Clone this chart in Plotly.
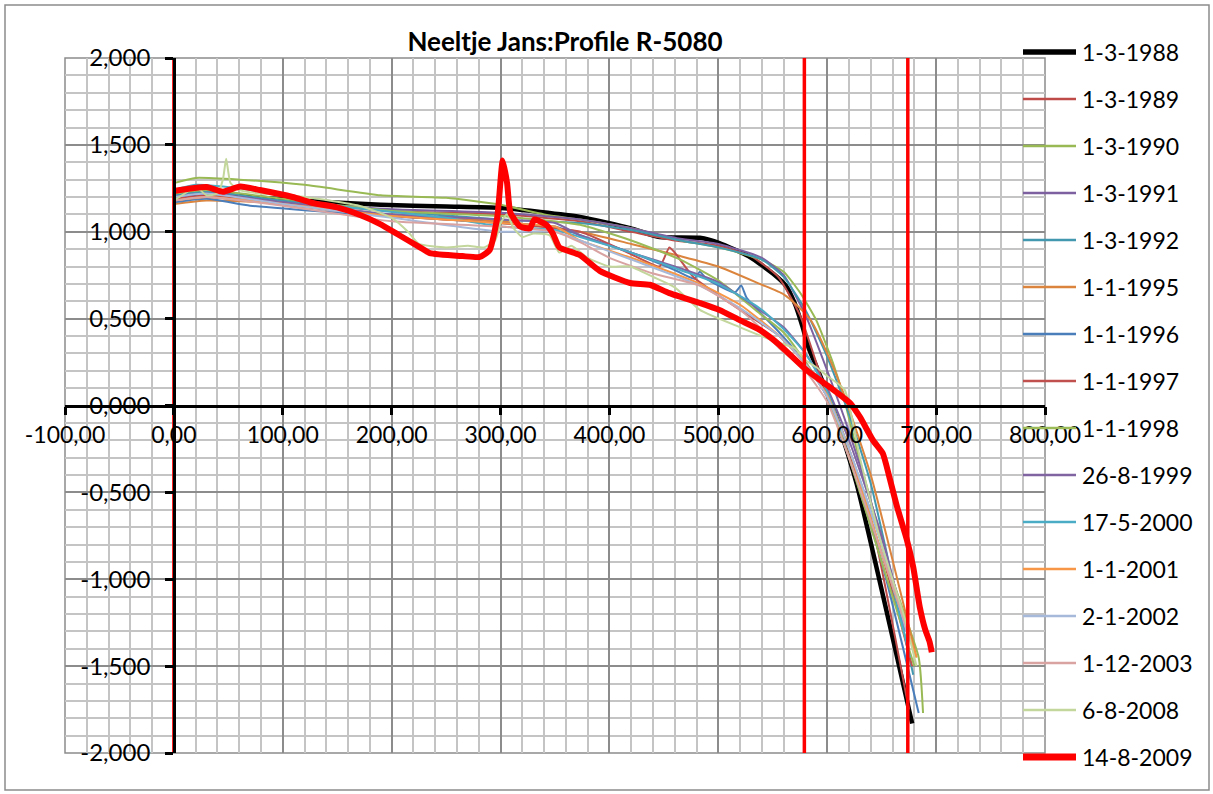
import plotly.graph_objects as go

# ---------------- data ----------------
series_names = ["1-3-1988", "1-3-1989", "1-3-1990", "1-3-1991", "1-3-1992", "1-1-1995",
                "1-1-1996", "1-1-1997", "1-1-1998", "26-8-1999", "17-5-2000", "1-1-2001",
                "2-1-2002", "1-12-2003", "6-8-2008", "14-8-2009"]

x_1988 = [0, 25, 70, 115, 190, 250, 300, 373, 419, 446, 483, 501, 529, 552, 562, 570, 577, 583, 591, 600, 609, 627, 678]
y_1988 = [1.20, 1.22, 1.20, 1.18, 1.155, 1.145, 1.137, 1.085, 1.02, 0.97, 0.965, 0.935, 0.855, 0.75, 0.69, 0.59, 0.46, 0.33, 0.21, 0.07, -0.08, -0.45, -1.83]

x_1989 = [0, 30, 100, 200, 300, 373, 420, 460, 500, 530, 555, 575, 595, 615, 640, 675]
y_1989 = [1.19, 1.21, 1.17, 1.12, 1.10, 1.06, 1.00, 0.95, 0.92, 0.86, 0.74, 0.52, 0.15, -0.20, -0.65, -1.75]

x_1990 = [0, 20, 60, 120, 190, 250, 300, 340, 373, 420, 465, 500, 540, 560, 575, 590, 605, 615, 625, 640, 660, 684, 688]
y_1990 = [1.28, 1.31, 1.30, 1.27, 1.21, 1.195, 1.155, 1.10, 1.07, 1.02, 0.95, 0.91, 0.84, 0.77, 0.65, 0.49, 0.25, 0.05, -0.20, -0.55, -1.00, -1.45, -1.77]

x_1991 = [0, 30, 100, 200, 300, 373, 420, 465, 500, 540, 560, 580, 600, 620, 640, 676]
y_1991 = [1.20, 1.22, 1.17, 1.13, 1.11, 1.07, 1.02, 0.96, 0.93, 0.85, 0.75, 0.52, 0.20, -0.15, -0.55, -1.35]

x_1992 = [0, 30, 100, 200, 300, 373, 420, 465, 500, 540, 560, 580, 600, 620, 640, 679]
y_1992 = [1.21, 1.23, 1.18, 1.12, 1.07, 1.05, 1.01, 0.95, 0.91, 0.84, 0.74, 0.55, 0.28, -0.05, -0.45, -1.55]

x_1995 = [0, 30, 80, 150, 250, 300, 373, 420, 465, 500, 538, 560, 575, 585, 600, 615, 640, 682]
y_1995 = [1.16, 1.18, 1.17, 1.12, 1.08, 1.06, 1.00, 0.93, 0.86, 0.80, 0.70, 0.64, 0.56, 0.49, 0.30, 0.07, -0.40, -1.45]

x_1996 = [0, 30, 70, 150, 250, 300, 350, 373, 420, 460, 478, 483, 489, 515, 521, 526, 556, 580, 600, 620, 650, 684]
y_1996 = [1.17, 1.19, 1.15, 1.11, 1.07, 1.05, 1.03, 0.98, 0.88, 0.78, 0.73, 0.77, 0.73, 0.65, 0.69, 0.62, 0.42, 0.25, 0.05, -0.30, -0.90, -1.77]

x_1997 = [0, 30, 100, 200, 300, 373, 420, 446, 455, 460, 477, 520, 556, 580, 600, 620, 650, 678]
y_1997 = [1.19, 1.20, 1.16, 1.09, 1.05, 1.00, 0.87, 0.80, 0.91, 0.88, 0.74, 0.55, 0.40, 0.24, 0.05, -0.30, -0.85, -1.50]

x_1998 = [0, 30, 100, 200, 300, 373, 420, 465, 500, 538, 560, 580, 600, 620, 650, 680]
y_1998 = [1.22, 1.24, 1.19, 1.12, 1.09, 1.04, 0.95, 0.84, 0.72, 0.53, 0.42, 0.25, 0.05, -0.30, -0.90, -1.50]

x_1999 = [0, 30, 100, 200, 300, 350, 373, 420, 465, 500, 538, 560, 580, 600, 620, 650, 672]
y_1999 = [1.20, 1.22, 1.17, 1.10, 1.07, 1.05, 0.98, 0.88, 0.79, 0.71, 0.55, 0.45, 0.30, 0.10, -0.20, -0.75, -1.30]

x_2000 = [0, 20, 60, 150, 250, 300, 350, 373, 420, 465, 500, 538, 560, 580, 600, 620, 650, 676]
y_2000 = [1.24, 1.27, 1.25, 1.15, 1.08, 1.03, 1.01, 0.97, 0.88, 0.78, 0.70, 0.56, 0.44, 0.30, 0.08, -0.25, -0.80, -1.45]

x_2001 = [0, 30, 100, 200, 300, 350, 373, 420, 483, 520, 556, 580, 600, 620, 650, 682]
y_2001 = [1.18, 1.20, 1.16, 1.09, 1.05, 1.03, 0.95, 0.85, 0.70, 0.58, 0.40, 0.24, 0.06, -0.25, -0.85, -1.45]

x_2002 = [0, 30, 100, 200, 300, 350, 373, 420, 483, 520, 556, 580, 600, 620, 650, 675]
y_2002 = [1.20, 1.22, 1.16, 1.08, 1.00, 1.00, 0.95, 0.84, 0.69, 0.56, 0.40, 0.24, 0.05, -0.25, -0.80, -1.35]

x_2003 = [0, 30, 100, 200, 300, 350, 373, 400, 440, 483, 520, 538, 556, 580, 600, 620, 650, 674]
y_2003 = [1.18, 1.20, 1.15, 1.06, 1.03, 1.00, 0.94, 0.85, 0.76, 0.69, 0.55, 0.45, 0.33, 0.20, 0.02, -0.30, -0.85, -1.30]

x_2008 = [0, 10, 20, 30, 40, 45, 48, 52, 60, 80, 120, 170, 200, 215, 225, 250, 270, 285, 295, 300, 306, 312, 320, 330, 345, 354, 365, 380, 400, 419, 440, 460, 483, 520, 556, 570, 580, 590, 600, 616, 630, 650, 670, 682]
y_2008 = [1.18, 1.22, 1.26, 1.21, 1.22, 1.30, 1.42, 1.28, 1.24, 1.22, 1.20, 1.15, 1.08, 1.00, 0.93, 0.91, 0.92, 0.91, 0.95, 1.05, 1.10, 1.02, 0.97, 0.99, 0.98, 0.88, 0.92, 0.85, 0.80, 0.80, 0.74, 0.68, 0.55, 0.45, 0.36, 0.33, 0.26, 0.22, 0.17, 0.09, -0.30, -0.80, -1.20, -1.50]

x_2009 = [0, 30, 45, 61, 79, 109, 128, 150, 171, 189, 207, 226, 235, 265, 281, 290, 297, 302, 306, 309, 318, 327, 331, 342, 348, 354, 373, 391, 419, 437, 455, 483, 501, 520, 538, 556, 581, 602, 621, 630, 642, 651, 657, 664, 673, 679, 685, 690, 694, 696]
y_2009 = [1.235, 1.257, 1.23, 1.26, 1.24, 1.20, 1.165, 1.14, 1.096, 1.045, 0.98, 0.91, 0.877, 0.86, 0.855, 0.895, 1.085, 1.41, 1.28, 1.11, 1.03, 1.02, 1.07, 1.04, 0.99, 0.91, 0.865, 0.775, 0.705, 0.695, 0.647, 0.59, 0.55, 0.49, 0.435, 0.35, 0.204, 0.107, 0.014, -0.066, -0.20, -0.275, -0.41, -0.58, -0.77, -0.93, -1.16, -1.29, -1.36, -1.42]

series_x = [x_1988, x_1989, x_1990, x_1991, x_1992, x_1995, x_1996, x_1997, x_1998, x_1999, x_2000, x_2001, x_2002, x_2003, x_2008, x_2009]
series_y = [y_1988, y_1989, y_1990, y_1991, y_1992, y_1995, y_1996, y_1997, y_1998, y_1999, y_2000, y_2001, y_2002, y_2003, y_2008, y_2009]

series_colors = ["#000000", "#BE4B48", "#98B954", "#7D60A0", "#4198AF", "#DB843D",
                 "#4A7EBB", "#C0504D", "#9BBB59", "#8064A2", "#4BACC6", "#F79646",
                 "#A7B9DA", "#D9A3A2", "#C3D69B", "#FF0000"]
series_widths = [4.5, 2, 2, 2, 2, 2, 2, 2, 2, 2, 2, 2, 2, 2, 2, 6]

# vertical reference lines (x positions)
ref_x = [0, 579, 674]
ref_y = [-2.0, 2.02]

x_tickvals = [-100, 0, 100, 200, 300, 400, 500, 600, 700, 800]
x_ticktext = ["-100,00", "0,00", "100,00", "200,00", "300,00", "400,00", "500,00", "600,00", "700,00", "800,00"]
y_tickvals = [-2, -1.5, -1, -0.5, 0, 0.5, 1, 1.5, 2]
y_ticktext = ["-2,000", "-1,500", "-1,000", "-0,500", "0,000", "0,500", "1,000", "1,500", "2,000"]

FONT = "Lato"

# layout geometry (pixels)
W, H = 1213, 794
PL, PR, PT, PB = 65, 1045, 58, 753


def px2paper_x(px):
    return (px - PL) / (PR - PL)


def px2paper_y(py):
    return (PB - py) / (PB - PT)


fig = go.Figure()
for i, name in enumerate(series_names):
    fig.add_trace(go.Scatter(
        x=series_x[i], y=series_y[i], mode="lines", name=name, showlegend=False,
        line=dict(color=series_colors[i], width=series_widths[i], shape="spline", smoothing=0.5),
    ))

for rx in ref_x:
    fig.add_trace(go.Scatter(x=[rx, rx], y=ref_y, mode="lines", showlegend=False,
                             line=dict(color="#FF0000", width=3.5), cliponaxis=False, hoverinfo="skip"))

# manual legend (sample lines + labels)
shapes = [
    dict(type="rect", xref="paper", yref="paper", x0=0, x1=1, y0=0, y1=1,
         line=dict(color="#8C8C8C", width=1.5), layer="below"),
    dict(type="rect", xref="paper", yref="paper", x0=px2paper_x(5), x1=px2paper_x(1209),
         y0=px2paper_y(790), y1=px2paper_y(5), line=dict(color="#8C8C8C", width=1.5)),
]
annotations = []
for i, name in enumerate(series_names):
    yy = px2paper_y(52 + 47 * i)
    lw = series_widths[i] + (1 if i in (0, 15) else 0.5)
    shapes.append(dict(type="line", xref="paper", yref="paper", x0=px2paper_x(1023), x1=px2paper_x(1076),
                       y0=yy, y1=yy, line=dict(color=series_colors[i], width=lw), layer="above"))
    annotations.append(dict(text=name, xref="paper", yref="paper", x=px2paper_x(1080), y=yy,
                            xanchor="left", yanchor="middle", showarrow=False,
                            font=dict(family=FONT, size=23, color="black")))

fig.update_layout(
    width=W, height=H,
    margin=dict(l=PL, r=W - PR, t=PT, b=H - PB),
    paper_bgcolor="white", plot_bgcolor="white",
    font=dict(family=FONT, size=22, color="black"),
    title=dict(text="<b>Neeltje Jans:Profile R-5080</b>", x=565 / W, xref="container", xanchor="center",
               y=1 - 42 / H, yref="container", yanchor="middle", font=dict(family=FONT, size=26, color="black")),
    showlegend=False,
    xaxis=dict(range=[-100, 800], tickvals=x_tickvals, ticktext=x_ticktext,
               anchor="free", position=0.5, showline=True, linecolor="black", linewidth=2.5,
               ticks="outside", ticklen=8, tickwidth=2.5, tickcolor="black",
               showgrid=True, gridcolor="#8C8C8C", gridwidth=1.5, zeroline=False,
               minor=dict(dtick=20, tick0=0, showgrid=True, gridcolor="#C4C4C4", gridwidth=1.5, ticks=""),
               tickfont=dict(family=FONT, size=23, color="black")),
    yaxis=dict(range=[-2, 2], tickvals=y_tickvals, ticktext=y_ticktext,
               anchor="free", position=100 / 900, showline=True, linecolor="black", linewidth=2.5,
               ticks="outside", ticklen=8, tickwidth=2.5, tickcolor="black", ticklabelstandoff=10,
               showgrid=True, gridcolor="#8C8C8C", gridwidth=1.5, zeroline=False,
               minor=dict(dtick=0.1, tick0=0, showgrid=True, gridcolor="#C4C4C4", gridwidth=1.5, ticks=""),
               tickfont=dict(family=FONT, size=24, color="black")),
    shapes=shapes,
    annotations=annotations,
)

fig.write_html("out.html")
